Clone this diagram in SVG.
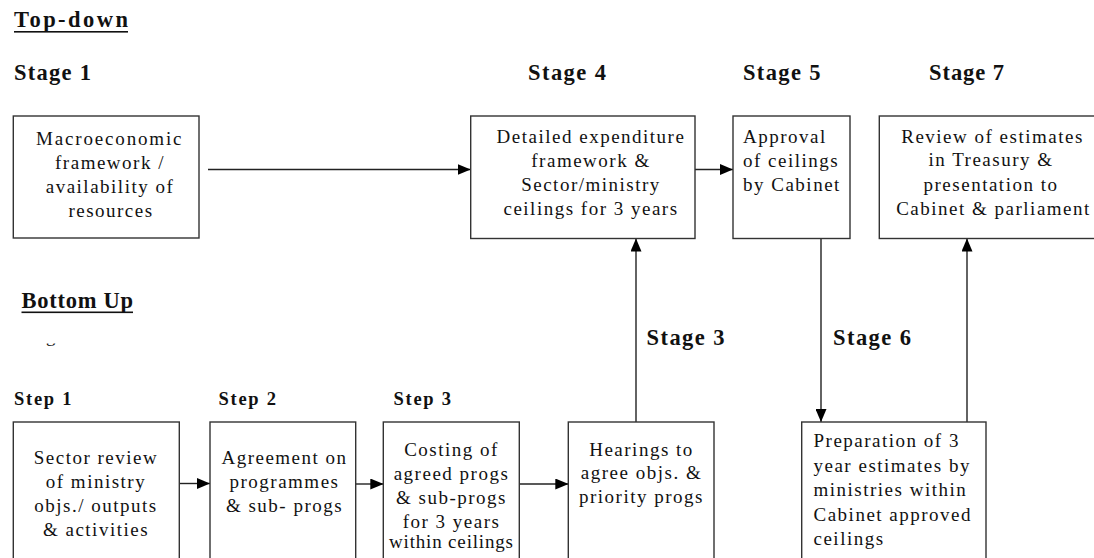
<svg xmlns="http://www.w3.org/2000/svg" width="1094" height="558" viewBox="0 0 1094 558">
<style>
.box{fill:#fff;stroke:#333;stroke-width:1.4}
.t{font-family:"Liberation Serif","Times New Roman",serif;font-size:19px;letter-spacing:1.5px;fill:#111}
.c{text-anchor:middle}
.h{font-family:"Liberation Serif","Times New Roman",serif;font-size:22.5px;font-weight:bold;fill:#111}
.s{font-family:"Liberation Serif","Times New Roman",serif;font-size:18.5px;font-weight:bold;fill:#111}
.conn{stroke:#222;stroke-width:1.4;fill:none;marker-end:url(#ah)}
</style>
<defs>
<marker id="ah" markerUnits="userSpaceOnUse" markerWidth="13" markerHeight="11" refX="13" refY="5.5" orient="auto">
<path d="M0,0 L13,5.5 L0,11 z" fill="#000"/>
</marker>
<clipPath id="gclip"><rect x="40" y="343.5" width="30" height="10"/></clipPath>
</defs>
<rect width="1094" height="558" fill="#fff"/>

<g id="labels">
<text class="h" x="14" y="26.5" textLength="114" lengthAdjust="spacing">Top-down</text>
<rect x="14" y="31" width="114" height="1.6" fill="#111"/>
<text class="h" x="14" y="80" textLength="77" lengthAdjust="spacing">Stage 1</text>
<text class="h" x="528" y="80" textLength="78" lengthAdjust="spacing">Stage 4</text>
<text class="h" x="743" y="80" textLength="77.5" lengthAdjust="spacing">Stage 5</text>
<text class="h" x="929" y="80" textLength="75" lengthAdjust="spacing">Stage 7</text>
<text class="h" x="21.5" y="308" textLength="111.5" lengthAdjust="spacing">Bottom Up</text>
<rect x="21.5" y="311.5" width="111.5" height="1.6" fill="#111"/>
<text class="t" x="46" y="342" clip-path="url(#gclip)">g</text>
<text class="h" x="646.5" y="345" textLength="78" lengthAdjust="spacing">Stage 3</text>
<text class="h" x="833" y="345" textLength="78" lengthAdjust="spacing">Stage 6</text>
<text class="s" x="14" y="405" textLength="57.5" lengthAdjust="spacing">Step 1</text>
<text class="s" x="218.5" y="405" textLength="57.5" lengthAdjust="spacing">Step 2</text>
<text class="s" x="393.5" y="405" textLength="57.5" lengthAdjust="spacing">Step 3</text>
</g>

<g id="connectors">
<line class="conn" x1="208" y1="169.5" x2="470.7" y2="169.5"/>
<line class="conn" x1="695" y1="169.5" x2="733" y2="169.5"/>
<line class="conn" x1="636" y1="422" x2="636" y2="238.5"/>
<line class="conn" x1="821" y1="238.5" x2="821" y2="422"/>
<line class="conn" x1="967" y1="422" x2="967" y2="238.5"/>
<line class="conn" x1="179.3" y1="483.5" x2="210" y2="483.5"/>
<line class="conn" x1="355.7" y1="484" x2="383.3" y2="484"/>
<line class="conn" x1="519.3" y1="484" x2="568.3" y2="484"/>
</g>

<g id="stage1">
<rect class="box" x="13.3" y="116" width="185.7" height="122"/>
<text class="t c" x="109.5" y="145" textLength="147" lengthAdjust="spacing">Macroeconomic</text>
<text class="t c" x="110" y="169">framework /</text>
<text class="t c" x="110" y="193">availability of</text>
<text class="t c" x="111" y="217">resources</text>
</g>

<g id="stage4">
<rect class="box" x="470.7" y="116" width="224.3" height="122.5"/>
<text class="t c" x="591" y="143">Detailed expenditure</text>
<text class="t c" x="591" y="167">framework &amp;</text>
<text class="t c" x="591" y="191">Sector/ministry</text>
<text class="t c" x="591" y="215">ceilings for 3 years</text>
</g>

<g id="stage5">
<rect class="box" x="733" y="116" width="117" height="122.5"/>
<text class="t" x="743" y="143">Approval</text>
<text class="t" x="743" y="167">of ceilings</text>
<text class="t" x="743" y="191">by Cabinet</text>
</g>

<g id="stage7">
<rect class="box" x="879.3" y="116" width="228" height="122.5"/>
<text class="t c" x="992.5" y="143">Review of estimates</text>
<text class="t c" x="991" y="166">in Treasury &amp;</text>
<text class="t c" x="991" y="191">presentation to</text>
<text class="t c" x="993.5" y="215">Cabinet &amp; parliament</text>
</g>

<g id="step1">
<rect class="box" x="13.3" y="422" width="166" height="150"/>
<text class="t c" x="96" y="464">Sector review</text>
<text class="t c" x="96" y="488">of ministry</text>
<text class="t c" x="96" y="512">objs./ outputs</text>
<text class="t c" x="96" y="536">&amp; activities</text>
</g>

<g id="step2">
<rect class="box" x="210" y="422" width="145.7" height="150"/>
<text class="t c" x="284.5" y="464">Agreement on</text>
<text class="t c" x="284.5" y="488">programmes</text>
<text class="t c" x="284.5" y="512">&amp; sub- progs</text>
</g>

<g id="step3">
<rect class="box" x="383.3" y="422" width="136" height="150"/>
<text class="t c" x="451.5" y="456">Costing of</text>
<text class="t c" x="451.5" y="480">agreed progs</text>
<text class="t c" x="451.5" y="504">&amp; sub-progs</text>
<text class="t c" x="451.5" y="528">for 3 years</text>
<text class="t c" x="451" y="548" textLength="124" lengthAdjust="spacing" style="letter-spacing:0">within ceilings</text>
</g>

<g id="stage3-hearings">
<rect class="box" x="568.3" y="422" width="145.7" height="150"/>
<text class="t c" x="641.5" y="456">Hearings to</text>
<text class="t c" x="641.5" y="479">agree objs. &amp;</text>
<text class="t c" x="641.5" y="503">priority progs</text>
</g>

<g id="stage6-preparation">
<rect class="box" x="801.7" y="422" width="184.3" height="150"/>
<text class="t" x="813.5" y="447">Preparation of 3</text>
<text class="t" x="813.5" y="471.5">year estimates by</text>
<text class="t" x="813.5" y="496">ministries within</text>
<text class="t" x="813.5" y="520.5">Cabinet approved</text>
<text class="t" x="813.5" y="545">ceilings</text>
</g>
</svg>
